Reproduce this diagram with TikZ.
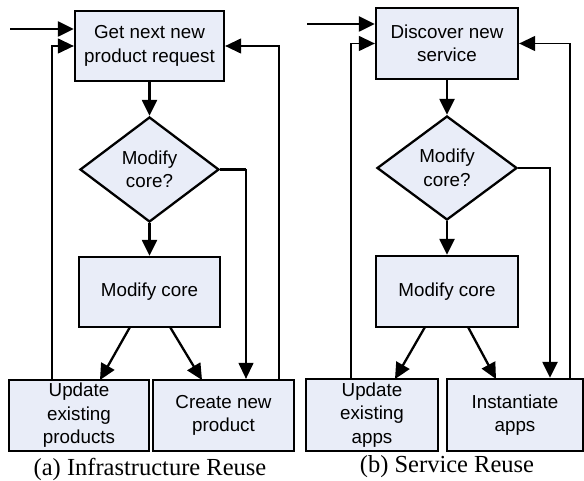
\documentclass[tikz,border=0pt]{standalone}
\usepackage{fontspec}
\setmainfont{Liberation Serif}
\newfontfamily\arialf{Liberation Sans}
\usetikzlibrary{shapes.geometric,arrows.meta}
\definecolor{boxfill}{RGB}{233,237,248}
\tikzset{
  every picture/.style={x=1pt,y=-1pt},
  box/.style={draw, line width=2.3pt, fill=boxfill, inner sep=0pt, align=center,
    font=\arialf\fontsize{18.8}{23.5}\selectfont},
  dec/.style={draw, diamond, line width=2.3pt, fill=boxfill, inner sep=0pt, align=center,
    font=\arialf\fontsize{18.8}{23.5}\selectfont},
  thk/.style={line width=2.3pt},
  thn/.style={line width=1.3pt},
  arr/.style={-{Triangle[length=16pt,width=15pt]}},
  captxt/.style={font=\fontsize{24.5}{28}\selectfont},
}
\begin{document}
\begin{tikzpicture}
\useasboundingbox (0,0) rectangle (584,481);
% ---------- (a)
\node[box, minimum width=149pt, minimum height=70pt] (topA) at (149.5,46) {Get next new\\product request};
\node[dec, minimum width=139pt, minimum height=105pt, aspect=1.32] (dA) at (149.5,169.5) {Modify\\core?};
\node[box, minimum width=141pt, minimum height=70pt] (modA) at (149.5,292) {Modify core};
\node[box, minimum width=140pt, minimum height=71pt] (updA) at (79,415.5) {Update\\existing\\products};
\node[box, minimum width=141pt, minimum height=71pt] (creA) at (223.5,415.5) {Create new\\product};
\coordinate (inA) at (10,29);
\coordinate (lA) at (52,0);
\coordinate (rA) at (279,0);
\coordinate (cA) at (246,0);
\coordinate (m1A) at (130,327);
\coordinate (m2A) at (170,327);
\coordinate (u1A) at (100,380);
\coordinate (u2A) at (202,380);
\draw[thk,arr] (inA) -- (inA -| topA.west);
\draw[thk,arr] (topA.south) -- (dA.north);
\draw[thk,arr] (dA.south) -- (modA.north);
\draw[thk] (dA.east) -- (dA.east -| cA);
\draw[thn,arr] (dA.east -| cA) -- (creA.north -| cA);
\draw[thk,arr] (m1A) -- (u1A);
\draw[thk,arr] (m2A) -- (u2A);
\draw[thn,arr] (updA.north -| lA) |- (topA.west);
\draw[thn,arr] (creA.north -| rA) |- (topA.east);
\node[captxt] (capA) at (150,469) {(a) Infrastructure Reuse};
% ---------- (b)
\node[box, minimum width=142pt, minimum height=71pt] (topB) at (447,43.5) {Discover new\\service};
\node[dec, minimum width=140pt, minimum height=104pt, aspect=1.35] (dB) at (447,168) {Modify\\core?};
\node[box, minimum width=142pt, minimum height=71pt] (modB) at (447,291.5) {Modify core};
\node[box, minimum width=132pt, minimum height=72pt] (updB) at (372,415) {Update\\existing\\apps};
\node[box, minimum width=136pt, minimum height=72pt] (insB) at (515,415) {Instantiate\\apps};
\coordinate (inB) at (307,24);
\coordinate (lB) at (351,0);
\coordinate (rB) at (570,0);
\coordinate (cB) at (550,0);
\coordinate (m1B) at (425,327);
\coordinate (m2B) at (468,327);
\coordinate (u1B) at (395,379);
\coordinate (u2B) at (496,379);
\draw[thk,arr] (inB) -- (inB -| topB.west);
\draw[thk,arr] (topB.south) -- (dB.north);
\draw[thk,arr] (dB.south) -- (modB.north);
\draw[thk,arr] (dB.east) -| (insB.north -| cB);
\draw[thk,arr] (m1B) -- (u1B);
\draw[thk,arr] (m2B) -- (u2B);
\draw[thn,arr] (updB.north -| lB) |- (topB.west);
\draw[thn,arr] (insB.north -| rB) |- (topB.east);
\node[captxt] (capB) at (447,467) {(b) Service Reuse};
\end{tikzpicture}
\end{document}
